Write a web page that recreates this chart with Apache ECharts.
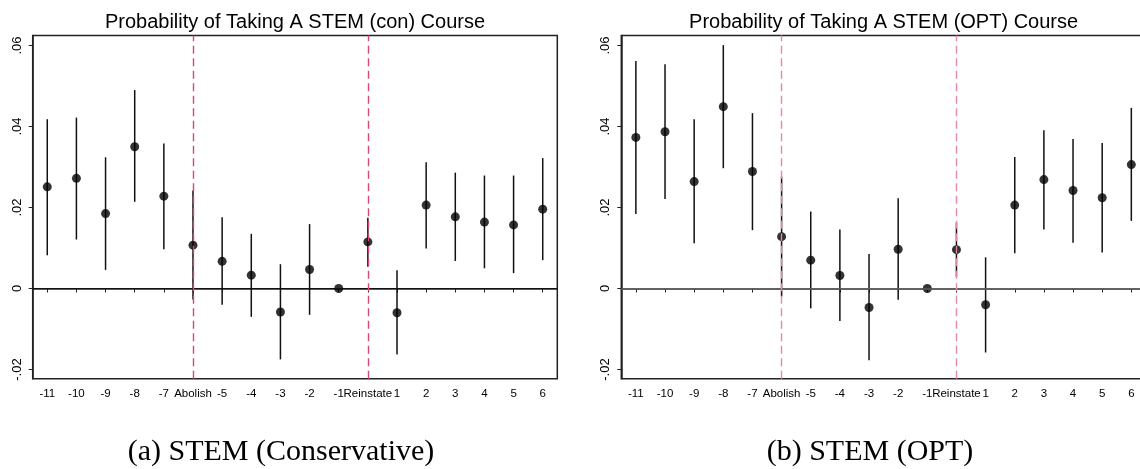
<!DOCTYPE html>
<html>
<head>
<meta charset="utf-8">
<script src="https://cdn.jsdelivr.net/npm/echarts@6/dist/echarts.min.js"></script>
<style>
html,body{margin:0;padding:0;background:#fff;}
#chart{width:1140px;height:469px;}
</style>
</head>
<body>
<div id="chart"></div>
<script>
// ---- data ----
var categories = ['-11','-10','-9','-8','-7','Abolish','-5','-4','-3','-2','-1','Reinstate','1','2','3','4','5','6'];

var conPoint = [0.0251, 0.0272, 0.0185, 0.0350, 0.0228, 0.0107, 0.0067, 0.0033, -0.0058, 0.0047, 0, 0.0115, -0.0060, 0.0206, 0.0177, 0.0164, 0.0157, 0.0196];
var conLow   = [0.0082, 0.0121, 0.0046, 0.0214, 0.0097, -0.0027, -0.0040, -0.0070, -0.0175, -0.0065, 0, 0.0054, -0.0163, 0.0099, 0.0068, 0.0050, 0.0038, 0.0070];
var conHigh  = [0.0418, 0.0422, 0.0324, 0.0490, 0.0358, 0.0242, 0.0176, 0.0135, 0.0060, 0.0159, 0, 0.0175, 0.0045, 0.0312, 0.0286, 0.0279, 0.0279, 0.0322];

var optPoint = [0.0373, 0.0387, 0.0264, 0.0449, 0.0289, 0.0128, 0.0070, 0.0032, -0.0047, 0.0097, 0, 0.0096, -0.0040, 0.0206, 0.0269, 0.0242, 0.0224, 0.0306];
var optLow   = [0.0184, 0.0221, 0.0112, 0.0297, 0.0144, -0.0020, -0.0049, -0.0080, -0.0177, -0.0028, 0, 0.0029, -0.0158, 0.0087, 0.0146, 0.0113, 0.0089, 0.0167];
var optHigh  = [0.0562, 0.0554, 0.0418, 0.0601, 0.0433, 0.0276, 0.0190, 0.0146, 0.0085, 0.0223, 0, 0.0163, 0.0077, 0.0325, 0.0391, 0.0369, 0.0359, 0.0446];

var yTickValues = [-0.02, 0, 0.02, 0.04, 0.06];
var yTickLabels = ['-.02', '0', '.02', '.04', '.06'];
var eventLines = ['Abolish', 'Reinstate'];

var panelTitles = ['Probability of Taking A STEM (con) Course', 'Probability of Taking A STEM (OPT) Course'];
var captions = ['(a) STEM (Conservative)', '(b) STEM (OPT)'];

// ---- chart ----
var chart = echarts.init(document.getElementById('chart'), null, {renderer: 'canvas'});
var SANS = "'Liberation Sans', Arial, Helvetica, sans-serif";
var SERIF = "'Liberation Serif', 'Times New Roman', serif";

function yLabel(v) {
  for (var i = 0; i < yTickValues.length; i++) {
    if (Math.abs(v - yTickValues[i]) < 1e-9) return yTickLabels[i];
  }
  return '';
}

var gridLefts = [32.7, 621.3];
var grids = [], xAxes = [], yAxes = [], series = [];
var points = [conPoint, optPoint], lows = [conLow, optLow], highs = [conHigh, optHigh];
var dashColors = ['#d9486f', '#e38aa6'];
var zeroStyles = [{color: '#111', width: 1}, {color: '#666', width: 1.6}];

for (var p = 0; p < 2; p++) {
  grids.push({
    left: gridLefts[p], top: 35.5, width: 524.6, height: 343.2,
    outerBoundsMode: 'none', containLabel: false,
    show: true, borderColor: '#222', borderWidth: 1.5, backgroundColor: 'transparent'
  });
  xAxes.push({
    type: 'category', gridIndex: p, data: categories, boundaryGap: true,
    axisLine: {show: true, lineStyle: {color: '#222', width: 1.5}},
    axisTick: {show: true, alignWithLabel: true, length: 4, lineStyle: {color: '#222', width: 1}},
    axisLabel: {interval: 0, hideOverlap: false, color: '#000', fontFamily: SANS, fontSize: 11.5, margin: 9},
    splitLine: {show: false}
  });
  yAxes.push({
    type: 'value', gridIndex: p, min: -0.02227, max: 0.06247,
    axisLine: {show: true, lineStyle: {color: '#222', width: 1.5}},
    axisTick: {show: true, length: 4, customValues: yTickValues, lineStyle: {color: '#222', width: 1}},
    axisLabel: {show: true, customValues: yTickValues, rotate: 90, formatter: yLabel,
      color: '#000', fontFamily: SANS, fontSize: 13, margin: 9},
    splitLine: {show: false}
  });

  var ciData = [];
  for (var i = 0; i < categories.length; i++) {
    if (lows[p][i] !== highs[p][i]) ciData.push([i, lows[p][i], highs[p][i]]);
  }
  series.push({
    type: 'custom', xAxisIndex: p, yAxisIndex: p, data: ciData, z: 3,
    encode: {x: 0, y: [1, 2]},
    renderItem: function (params, api) {
      var lo = api.coord([api.value(0), api.value(1)]);
      var hi = api.coord([api.value(0), api.value(2)]);
      return {type: 'line', shape: {x1: lo[0], y1: lo[1], x2: hi[0], y2: hi[1]},
        style: {stroke: '#111', lineWidth: 1.5}};
    },
    markLine: {
      silent: true, symbol: 'none', animation: false,
      label: {show: false},
      data: [
        {yAxis: 0, lineStyle: {type: 'solid', color: zeroStyles[p].color, width: zeroStyles[p].width}},
        {xAxis: eventLines[0], lineStyle: {type: [8, 4.5], color: dashColors[p], width: 1.4}},
        {xAxis: eventLines[1], lineStyle: {type: [8, 4.5], color: dashColors[p], width: 1.4}}
      ]
    }
  });
  series.push({
    type: 'scatter', xAxisIndex: p, yAxisIndex: p, z: 4,
    data: points[p].map(function (v, i) { return [i, v]; }),
    symbol: 'circle', symbolSize: 9,
    itemStyle: {color: '#000'}
  });
}

var graphics = [];
var titleX = [295, 883.6], capX = [281, 870];
for (var q = 0; q < 2; q++) {
  graphics.push({type: 'text', x: titleX[q], y: 22.5, z: 10,
    style: {text: panelTitles[q], font: '20px ' + SANS, fill: '#000', textAlign: 'center', textVerticalAlign: 'middle'}});
  graphics.push({type: 'text', x: capX[q], y: 452, z: 10,
    style: {text: captions[q], font: '30px ' + SERIF, fill: '#000', textAlign: 'center', textVerticalAlign: 'middle'}});
}

chart.setOption({
  animation: false,
  backgroundColor: '#fff',
  grid: grids,
  xAxis: xAxes,
  yAxis: yAxes,
  series: series,
  graphic: graphics
});
</script>
</body>
</html>
